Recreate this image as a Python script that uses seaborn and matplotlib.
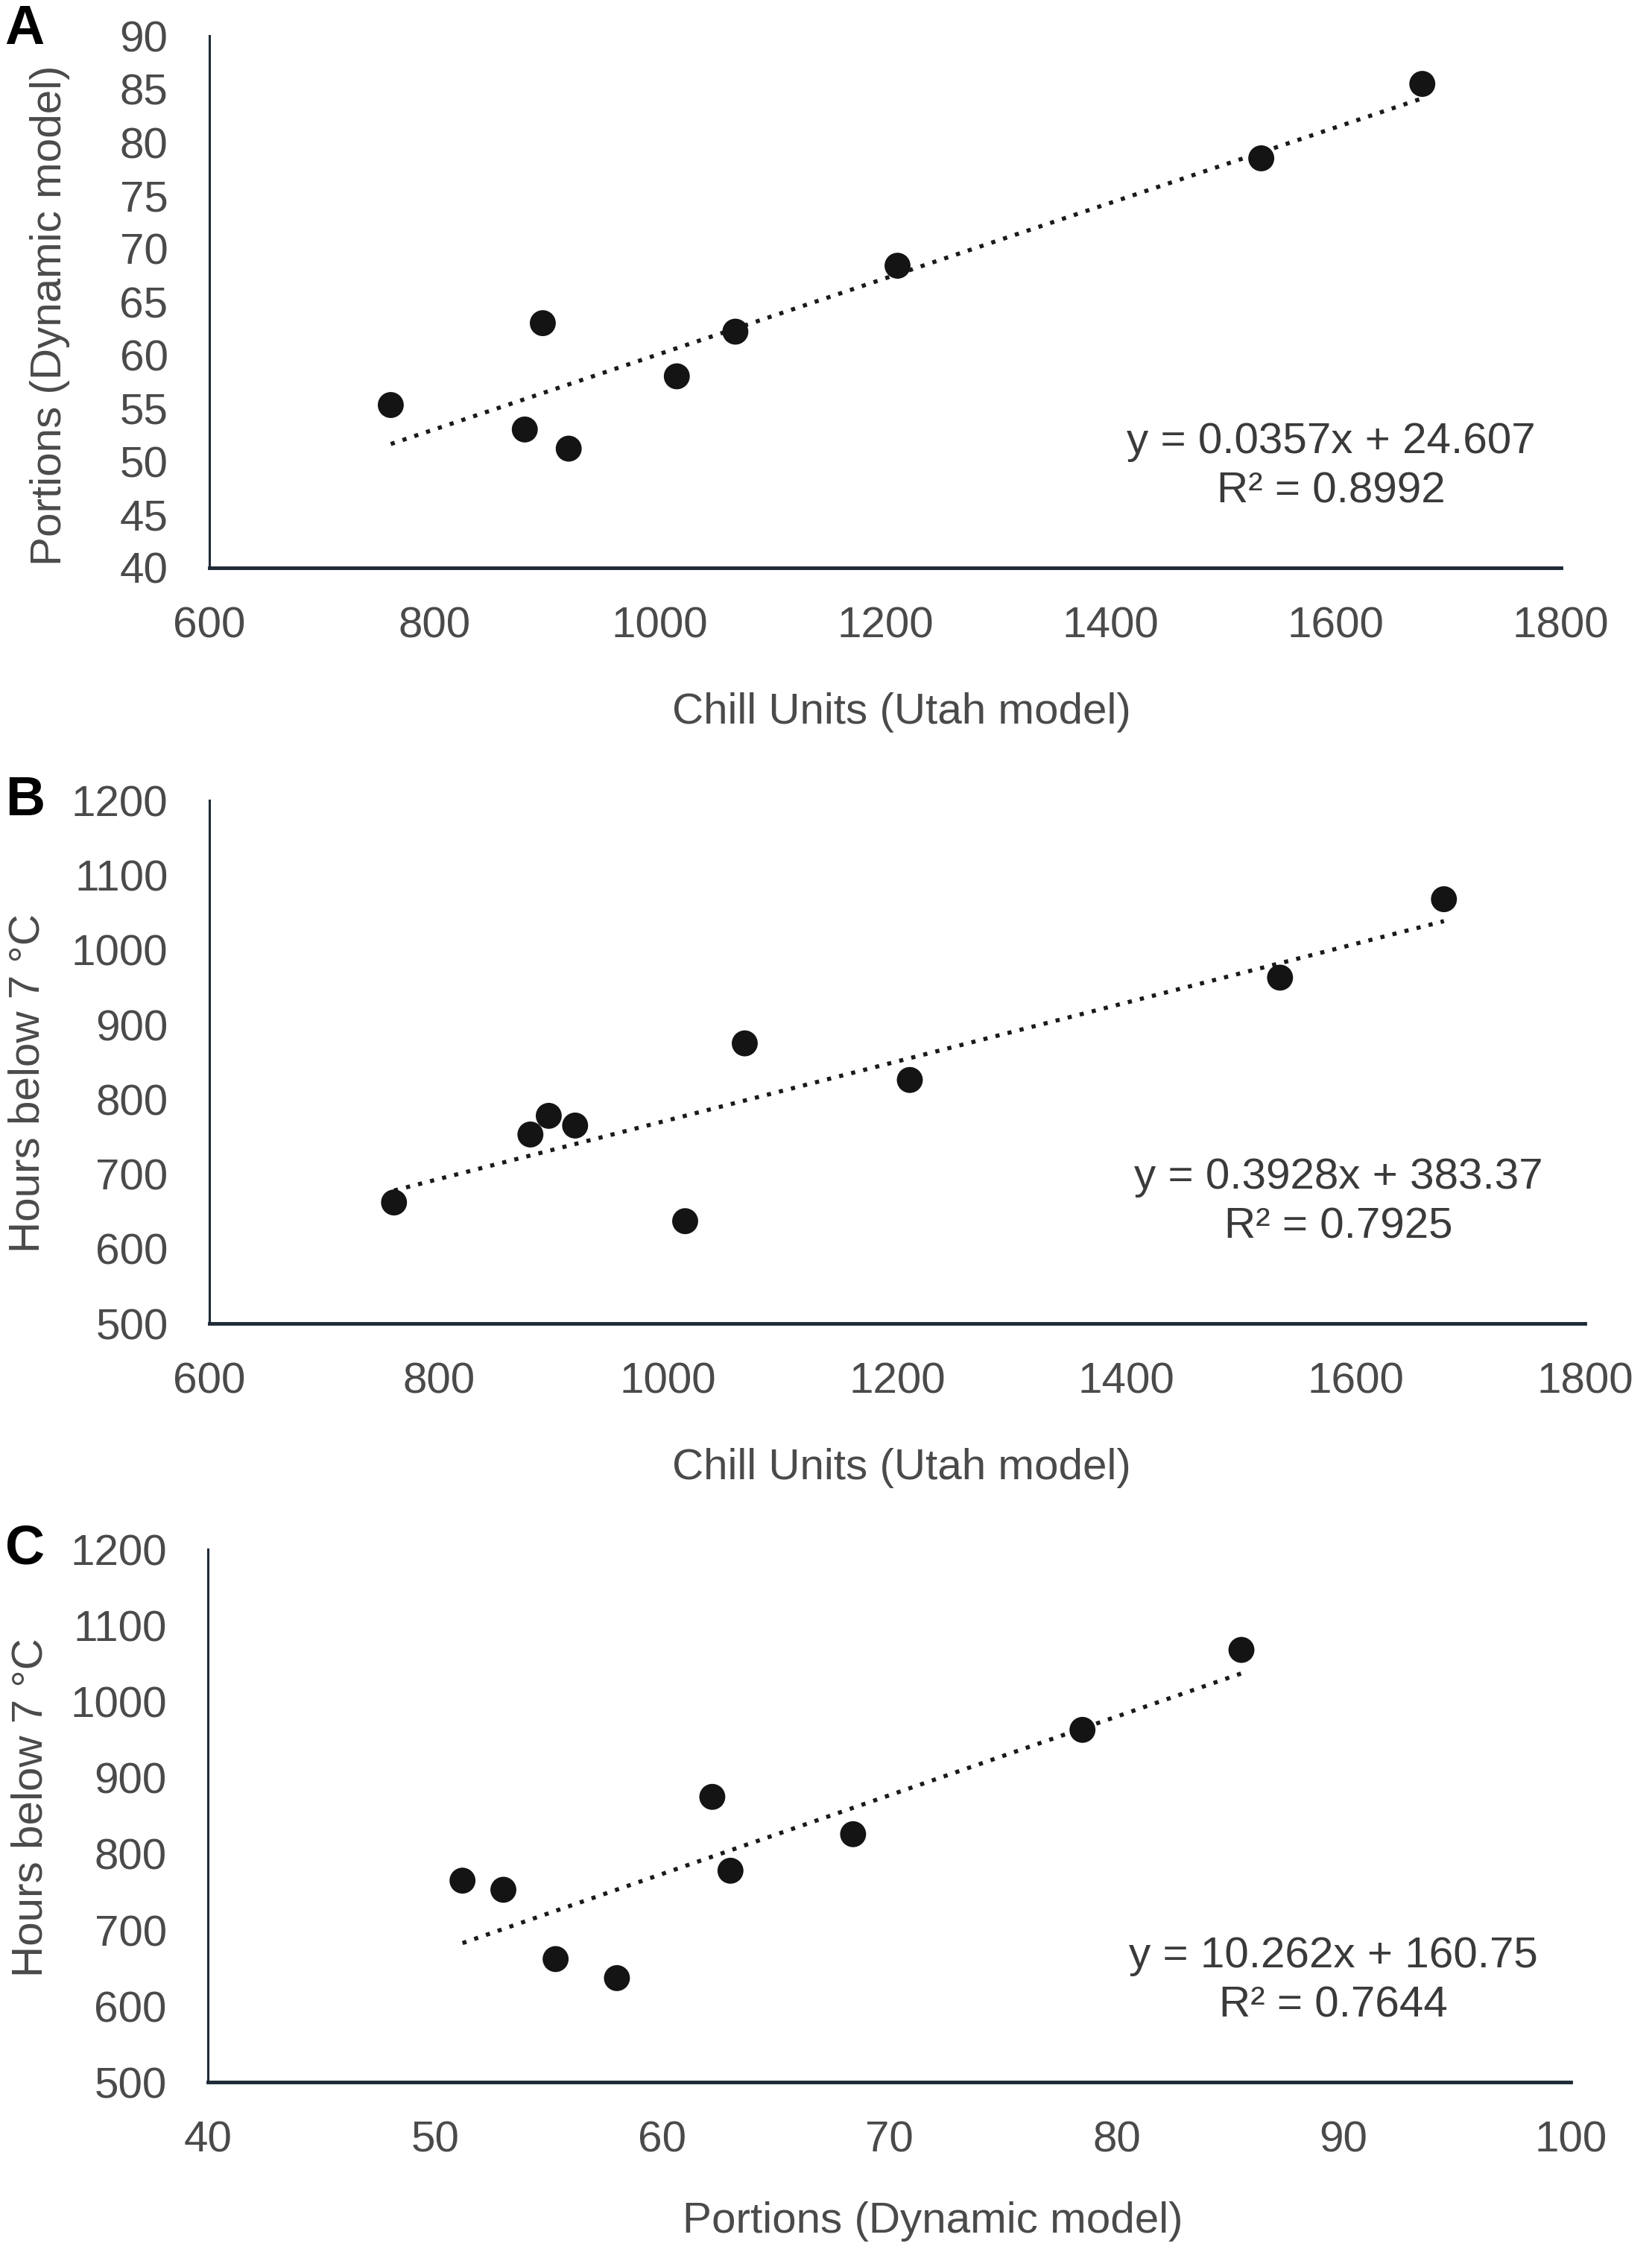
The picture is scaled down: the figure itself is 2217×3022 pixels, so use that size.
import matplotlib
matplotlib.use("Agg")
import matplotlib.pyplot as plt
import seaborn as sns
import numpy as np
import pandas as pd

# ---- data ----
chill_units = [761, 880, 896, 919, 1015, 1067, 1211, 1534, 1677]
portions = [55.3, 53.0, 63.0, 51.2, 58.0, 62.2, 68.4, 78.5, 85.5]
hours_below_7 = [662, 753, 778, 765, 637, 875, 826, 963, 1068]

eq_a = "y = 0.0357x + 24.607\nR² = 0.8992"
eq_b = "y = 0.3928x + 383.37\nR² = 0.7925"
eq_c = "y = 10.262x + 160.75\nR² = 0.7644"

xticks_cu = [600, 800, 1000, 1200, 1400, 1600, 1800]
yticks_p = [40, 45, 50, 55, 60, 65, 70, 75, 80, 85, 90]
yticks_h = [500, 600, 700, 800, 900, 1000, 1100, 1200]
xticks_p = [40, 50, 60, 70, 80, 90, 100]

df = pd.DataFrame({"cu": chill_units, "p": portions, "h": hours_below_7})

sns.set_theme(style="white")
plt.rcParams["font.family"] = ["Liberation Sans", "DejaVu Sans"]

W, H = 2217, 3022
fig = plt.figure(figsize=(W / 100, H / 100), dpi=100)

GRAY = "#4a4a4a"
TXT = "#3a3a3a"
SPINE = "#1e2a36"

panels = [
    dict(rect=[0.1268, 0.7479, 0.8180, 0.2361], x="cu", y="p",
         xticks=xticks_cu, yticks=yticks_p, xlabel="Chill Units (Utah model)",
         ylabel="Portions (Dynamic model)", eq=eq_a, eqpos=(0.830, 0.19),
         xlab=(0.512, -0.272), ylab=(-0.118, 0.475), letter="A", ly=0.987),
    dict(rect=[0.1268, 0.4123, 0.8326, 0.2322], x="cu", y="h",
         xticks=xticks_cu, yticks=yticks_h, xlabel="Chill Units (Utah model)",
         ylabel="Hours below 7 °C", eq=eq_b, eqpos=(0.821, 0.232),
         xlab=(0.503, -0.277), ylab=(-0.132, 0.459), letter="B", ly=0.6445),
    dict(rect=[0.1260, 0.0753, 0.8248, 0.2367], x="p", y="h",
         xticks=xticks_p, yticks=yticks_h, xlabel="Portions (Dynamic model)",
         ylabel="Hours below 7 °C", eq=eq_c, eqpos=(0.826, 0.19),
         xlab=(0.532, -0.261), ylab=(-0.130, 0.515), letter="C", ly=0.312),
]

for pnl in panels:
    ax = fig.add_axes(pnl["rect"])
    sns.regplot(data=df, x=pnl["x"], y=pnl["y"], ax=ax, scatter=False, ci=None,
                truncate=True,
                line_kws=dict(color="#1a1a1a", lw=4.0, ls=(0, (1, 2.0))))
    sns.scatterplot(data=df, x=pnl["x"], y=pnl["y"], ax=ax, s=630,
                    color="#141414", edgecolor="none", zorder=3)
    ax.set_xlim(pnl["xticks"][0], pnl["xticks"][-1])
    ax.set_ylim(pnl["yticks"][0], pnl["yticks"][-1])
    ax.set_xticks(pnl["xticks"])
    ax.set_yticks(pnl["yticks"])
    ax.tick_params(axis="both", length=0, labelsize=42, labelcolor=GRAY)
    ax.tick_params(axis="y", pad=40)
    ax.tick_params(axis="x", pad=37)
    for s in ["top", "right"]:
        ax.spines[s].set_visible(False)
    ax.spines["left"].set_color(SPINE)
    ax.spines["left"].set_linewidth(2.2)
    ax.spines["bottom"].set_color(SPINE)
    ax.spines["bottom"].set_linewidth(3.5)
    ax.set_xlabel(pnl["xlabel"], fontsize=42, color=GRAY, va="center", ha="center")
    ax.set_ylabel(pnl["ylabel"], fontsize=42, color=GRAY, va="center", ha="center")
    ax.xaxis.set_label_coords(*pnl["xlab"])
    ax.yaxis.set_label_coords(*pnl["ylab"])
    ax.text(pnl["eqpos"][0], pnl["eqpos"][1], pnl["eq"], transform=ax.transAxes,
            ha="center", va="center", fontsize=42, color=TXT, linespacing=1.3)
    fig.text(0.003, pnl["ly"], pnl["letter"], fontsize=53, fontweight="bold",
             color="black", ha="left", va="center")

fig.savefig("out.png", dpi=100, facecolor="white")
